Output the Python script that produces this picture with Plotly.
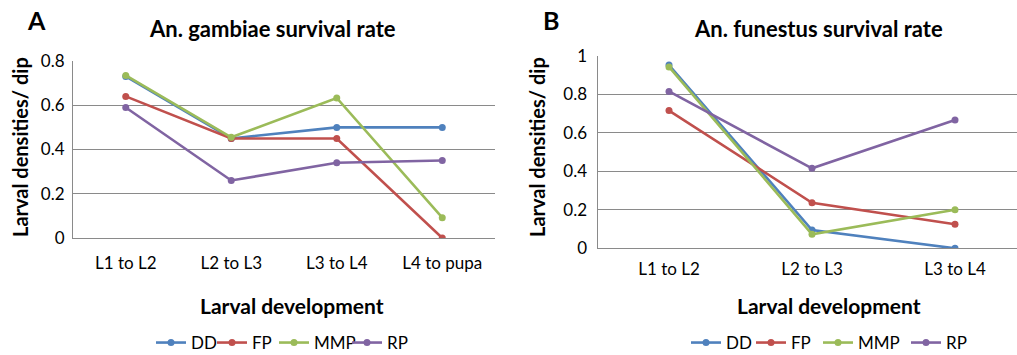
import plotly.graph_objects as go

# ---- data ----
stages_a = ["L1 to L2", "L2 to L3", "L3 to L4", "L4 to pupa"]
stages_b = ["L1 to L2", "L2 to L3", "L3 to L4"]
series_names = ["DD", "FP", "MMP", "RP"]

gambiae_dd = [0.73, 0.45, 0.50, 0.50]
gambiae_fp = [0.64, 0.45, 0.45, 0.00]
gambiae_mmp = [0.735, 0.455, 0.633, 0.092]
gambiae_rp = [0.59, 0.26, 0.34, 0.35]

funestus_dd = [0.953, 0.095, 0.0]
funestus_fp = [0.716, 0.237, 0.125]
funestus_mmp = [0.943, 0.073, 0.20]
funestus_rp = [0.816, 0.416, 0.667]

colors = ["#4F81BD", "#C0504D", "#9BBB59", "#8064A2"]

W, H = 1017, 355
FONT = "Lato, Carlito, Calibri, sans-serif"
GRID = "#8a8a8a"

# legend entry text-start positions (px) for each panel
legend_text_x_a = [190, 251, 313, 386]
legend_text_x_b = [725, 790, 857, 945]


def px(x):
    return x / W


def py(y):
    return (H - y) / H


fig = go.Figure()

for i, (name, col, vals) in enumerate(zip(series_names, colors,
                                          [gambiae_dd, gambiae_fp, gambiae_mmp, gambiae_rp])):
    fig.add_trace(go.Scatter(x=stages_a, y=vals, name=name, mode="lines+markers",
                             line=dict(color=col, width=2.6),
                             marker=dict(color=col, size=7),
                             xaxis="x", yaxis="y", legend=f"legend{i + 1}" if i else "legend"))

for i, (name, col, vals) in enumerate(zip(series_names, colors,
                                          [funestus_dd, funestus_fp, funestus_mmp, funestus_rp])):
    fig.add_trace(go.Scatter(x=stages_b, y=vals, name=name, mode="lines+markers",
                             line=dict(color=col, width=2.6),
                             marker=dict(color=col, size=7),
                             xaxis="x2", yaxis="y2", legend=f"legend{i + 5}"))

axis_common = dict(showgrid=False, zeroline=False, showline=True, linecolor=GRID,
                   linewidth=1, ticks="", tickfont=dict(family=FONT, size=17, color="#000"),
                   fixedrange=True)
ygrid = dict(showgrid=True, gridcolor=GRID, gridwidth=1)

legend_common = dict(orientation="h", yanchor="middle", xanchor="left", itemwidth=30,
                     font=dict(family=FONT, size=17, color="#000"),
                     bgcolor="rgba(0,0,0,0)", borderwidth=0)

legends = {}
for i, xs in enumerate(legend_text_x_a + legend_text_x_b):
    key = "legend" if i == 0 else f"legend{i + 1}"
    legends[key] = dict(x=px(xs - 39), y=py(343), **legend_common)

fig.update_layout(
    width=W, height=H,
    margin=dict(l=0, r=0, t=0, b=0, autoexpand=False),
    paper_bgcolor="white", plot_bgcolor="white",
    font=dict(family=FONT, color="#000"),
    xaxis=dict(domain=[px(73), px(495)], anchor="y", type="category",
               range=[-0.5, 3.5], ticklabelstandoff=10, **axis_common),
    yaxis=dict(domain=[py(238), py(61)], anchor="x", range=[0, 0.8],
               tickvals=[0, 0.2, 0.4, 0.6, 0.8], ticktext=["0", "0.2", "0.4", "0.6", "0.8"],
               ticklabelstandoff=4, **{**axis_common, **ygrid}),
    xaxis2=dict(domain=[px(597.5), 1.0], anchor="y2", type="category",
                range=[-0.5, -0.5 + (W - 597.5) / 143.0], ticklabelstandoff=5, **axis_common),
    yaxis2=dict(domain=[py(248.3), py(56)], anchor="x2", range=[0, 1],
                tickvals=[0, 0.2, 0.4, 0.6, 0.8, 1], ticktext=["0", "0.2", "0.4", "0.6", "0.8", "1"],
                ticklabelstandoff=6, **{**axis_common, **ygrid}),
    showlegend=True,
    **legends,
)

ann = [
    dict(text="<b>A</b>", x=px(36), y=py(20), size=25),
    dict(text="<b>B</b>", x=px(551), y=py(20), size=25),
    dict(text="<b>An. gambiae survival rate</b>", x=px(272), y=py(28), size=22),
    dict(text="<b>An. funestus survival rate</b>", x=px(818), y=py(28), size=22),
    dict(text="<b>Larval development</b>", x=px(292), y=py(305), size=21),
    dict(text="<b>Larval development</b>", x=px(829), y=py(305), size=21),
]
for a in ann:
    fig.add_annotation(text=a["text"], x=a["x"], y=a["y"], xref="paper", yref="paper",
                       xanchor="center", yanchor="middle", showarrow=False,
                       font=dict(family=FONT, size=a["size"], color="#000"))

for xc in (20, 537):
    fig.add_annotation(text="<b>Larval densities/ dip</b>", x=px(xc), y=py(147),
                       xref="paper", yref="paper", xanchor="center", yanchor="middle",
                       showarrow=False, textangle=-90,
                       font=dict(family=FONT, size=20, color="#000"))

fig.write_html("out.html", config={"displayModeBar": False},
               post_script="document.body.style.margin='0';document.body.style.overflow='hidden';")
